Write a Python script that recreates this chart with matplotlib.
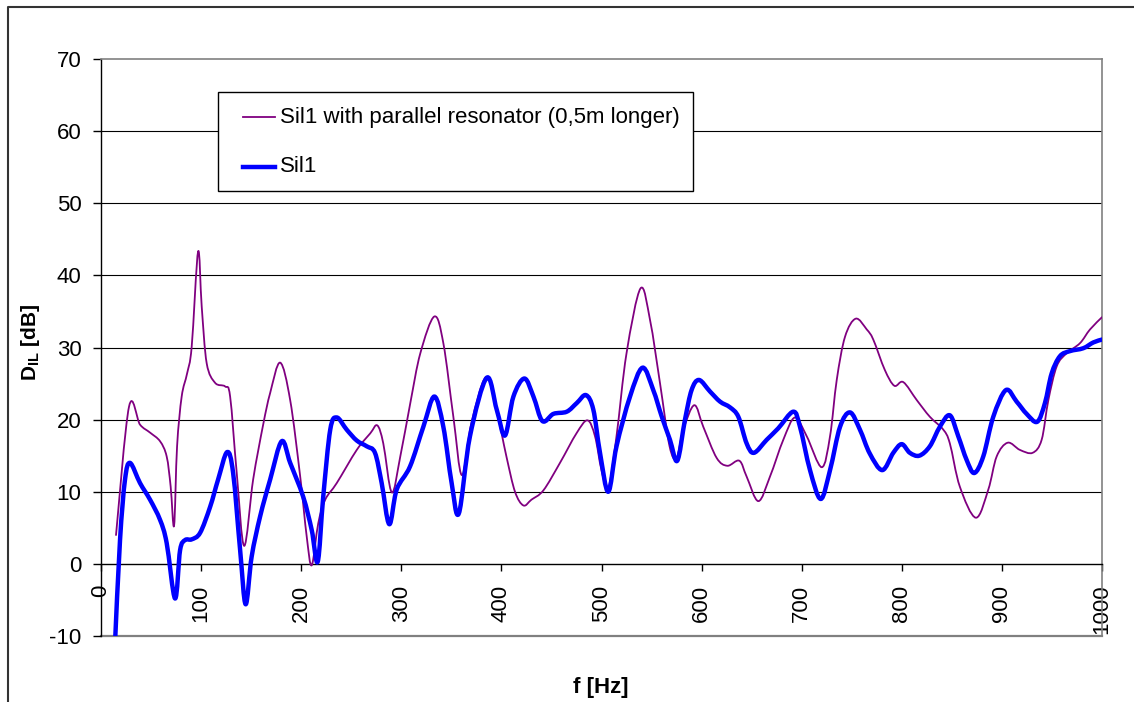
import numpy as np
import matplotlib
matplotlib.use('Agg')
import matplotlib.pyplot as plt
from matplotlib.path import Path
from matplotlib.patches import PathPatch, Rectangle
from matplotlib.lines import Line2D

plt.rcParams['font.family'] = ['Liberation Sans', 'DejaVu Sans']
plt.rcParams['mathtext.fontset'] = 'custom'
plt.rcParams['mathtext.bf'] = 'Liberation Sans:bold'
plt.rcParams['mathtext.rm'] = 'Liberation Sans'
plt.rcParams['axes.unicode_minus'] = False

# insertion loss difference, silencer with parallel resonator (0,5m longer)
f_res = [15, 28, 39, 49, 59, 65.6, 69.6, 73, 76, 80.6, 86, 90.6, 97, 100.6, 105.6,
         114, 124, 129, 135.6, 143, 152, 162, 169, 179, 189, 199, 205.5, 210.5, 217,
         224, 235.5, 255.5, 269, 276, 282, 290.5, 299, 309, 319, 333, 342, 352, 360.5,
         370, 384.6, 395, 405, 413.6, 422, 430, 442, 458.5, 475, 486, 493.5, 500,
         506.8, 515, 525, 539, 548.5, 558.5, 568, 575, 581.7, 592.7, 601.7, 615, 625.7,
         637.7, 645, 656.7, 668.3, 681.6, 693.3, 705, 720, 728.3, 735, 743.3, 754, 765,
         771.5, 783, 792.5, 801.5, 815, 828, 841.5, 848, 858, 874, 886.4, 894.8, 905.8,
         918, 930.7, 939.7, 946.4, 954.8, 964.7, 978, 988, 1000]
d_res = [4.0, 21.8, 19.3, 18.2, 17.0, 14.9, 10.7, 5.3, 16.3, 23.2, 26.4, 30.1, 43.3, 35.7, 27.8,
         25.1, 24.6, 23.2, 12.6, 2.5, 11.7, 19.3, 23.7, 27.9, 22.7, 12.1, 3.8, -0.2, 5.6,
         8.9, 11.2, 15.8, 18.1, 19.2, 16.7, 9.9, 14.9, 22.3, 29.2, 34.3, 30.6, 20.4, 12.3,
         19.5, 25.9, 21.4, 14.9, 10.0, 8.1, 8.9, 10.2, 14.0, 18.1, 19.9, 17.7, 13.0,
         10.5, 17.7, 29.2, 38.2, 33.8, 25.0, 16.3, 14.7, 18.6, 22.0, 19.0, 14.7, 13.6,
         14.3, 12.1, 8.7, 12.1, 17.2, 20.3, 17.7, 13.4, 17.7, 25.5, 31.5, 34.0, 32.5,
         31.1, 26.9, 24.7, 25.2, 22.7, 20.4, 18.6, 16.7, 10.7, 6.4, 10.3, 14.9, 16.8,
         15.8, 15.4, 17.2, 22.7, 27.4, 29.2, 30.6, 32.5, 34.2]

# Sil1 alone
f_sil = [14, 19, 24, 29, 39, 49, 59, 65.6, 74, 79, 84, 90.6, 99, 109, 117, 126, 132, 139,
         144.5, 150.5, 159, 169, 180.5, 189, 202, 210.5, 216.5, 222, 229, 235.5, 245.5,
         255.5, 265.5, 273.7, 280.4, 288, 295.4, 308.7, 322, 333, 342, 350.3, 357.5,
         368.6, 385.3, 395.3, 403.6, 412, 423, 432, 441, 452, 465.3, 475.3, 484.5, 491.8,
         498.5, 506.8, 515, 528.5, 541, 551.7, 560, 568.4, 575.7, 583.4, 590, 597.4,
         608.4, 618.4, 628.4, 636.7, 645, 652.3, 665, 676.6, 691.6, 698.3, 708.3, 719,
         728.3, 738.3, 748.3, 758.2, 768, 780.5, 791.5, 799.9, 808, 817.5, 828, 838, 848,
         856.4, 864.8, 872.4, 881.4, 891.4, 904, 914.7, 924.7, 935.3, 943, 949.7, 958,
         968, 981.3, 991.3, 1000]
d_sil = [-11.0, 3.3, 11.7, 14.0, 11.2, 8.9, 6.1, 2.9, -4.8, 1.9, 3.3, 3.4, 4.3, 7.9, 11.7, 15.5, 12.6, 1.9,
         -5.6, 1.0, 6.6, 11.7, 17.0, 14.0, 9.3, 4.7, 0.3, 9.3, 18.6, 20.3, 18.6,
         17.1, 16.3, 15.4, 11.2, 5.5, 10.3, 13.5, 19.0, 23.2, 19.0, 11.2, 7.0,
         17.7, 25.8, 21.4, 17.8, 23.2, 25.7, 23.2, 19.8, 20.8, 21.1, 22.3, 23.4, 21.4,
         15.4, 10.0, 16.3, 23.2, 27.2, 24.1, 20.5, 17.2, 14.3, 20.0, 24.1, 25.5,
         23.9, 22.5, 21.7, 20.4, 16.7, 15.4, 17.2, 18.8, 21.1, 19.0, 13.0, 9.0,
         13.0, 19.0, 21.0, 18.6, 15.3, 13.0, 15.4, 16.6, 15.4, 15.0, 16.3, 19.0, 20.6,
         17.7, 14.4, 12.6, 14.9, 20.4, 24.1, 22.5, 20.8, 19.7, 22.3, 26.4, 28.8,
         29.5, 29.9, 30.7, 31.1]

labels = ['Sil1 with parallel resonator (0,5m longer)', 'Sil1']
colors = ['#800080', '#0000ff']
widths = [1.3, 3.2]

W, H = 1134, 702


def fig_xy(x, y):
    # pixel position -> figure fraction
    return x / W, 1 - y / H


def smooth_path(x, y):
    # smoothed line as cubic bezier segments (Catmull-Rom tangents)
    p = np.column_stack([x, y]).astype(float)
    ext = np.vstack([p[0], p, p[-1]])
    verts = [p[0]]
    codes = [Path.MOVETO]
    for i in range(len(p) - 1):
        p0, p1, p2, p3 = ext[i], ext[i + 1], ext[i + 2], ext[i + 3]
        c1 = p1 + (p2 - p0) / 6
        c2 = p2 - (p3 - p1) / 6
        verts += [c1, c2, p2]
        codes += [Path.CURVE4] * 3
    return Path(verts, codes)


fig = plt.figure(figsize=(W / 100, H / 100), dpi=100)
ax = fig.add_axes([101 / W, 1 - 636 / H, 1001 / W, 577 / H])

for fx, dy, c, lw in zip([f_res, f_sil], [d_res, d_sil], colors, widths):
    patch = PathPatch(smooth_path(fx, dy), facecolor='none', edgecolor=c, lw=lw,
                      capstyle='round', joinstyle='round', zorder=3)
    ax.add_patch(patch)

ax.set_xlim(0, 1000)
ax.set_ylim(-10, 70)
ax.set_yticks(range(-10, 71, 10))
ax.set_xticks(range(0, 1001, 100))

# gridlines
for g in range(10, 61, 10):
    ax.axhline(g, color='black', lw=0.8, zorder=1)

# plot area frame grey, x axis crosses at 0
for s in ['top', 'right']:
    ax.spines[s].set_color('#808080')
    ax.spines[s].set_linewidth(1.2)
ax.spines['left'].set_color('black')
ax.spines['left'].set_linewidth(1.0)
ax.spines['bottom'].set_position(('data', 0))
ax.spines['bottom'].set_color('black')
ax.spines['bottom'].set_linewidth(1.0)
ax.axhline(-10, color='#808080', lw=1.6, clip_on=False, zorder=1)

ax.tick_params(axis='y', direction='out', length=6, width=1, pad=8, labelsize=16)
ax.tick_params(axis='x', direction='out', length=5, width=1, pad=10, labelsize=16,
               labelrotation=90)

fig.text(*fig_xy(30, 342), r'$\mathbf{D}_\mathbf{IL}$ [dB]', rotation=90, ha='center',
         va='center', fontsize=15, fontweight='bold')
fig.text(*fig_xy(601, 688), 'f [Hz]', ha='center', va='center', fontsize=16,
         fontweight='bold')

# legend box
lx0, ly0, lx1, ly1 = 218, 92, 693, 191
fig.add_artist(Rectangle(fig_xy(lx0, ly1), (lx1 - lx0) / W, (ly1 - ly0) / H,
                         transform=fig.transFigure, facecolor='white',
                         edgecolor='black', lw=1.0, zorder=5))
for i, (lab, c, lw) in enumerate(zip(labels, colors, widths)):
    yy = 117 + 50 * i
    xa, ya = fig_xy(243, yy)
    xb, _ = fig_xy(275, yy)
    fig.add_artist(Line2D([xa, xb], [ya, ya], color=c, lw=lw, zorder=6,
                          transform=fig.transFigure))
    fig.text(*fig_xy(280, yy), lab, ha='left', va='center', fontsize=16, zorder=6)

# outer chart border
fig.add_artist(Line2D([8 / W, 8 / W, 1], [0, 1 - 7 / H, 1 - 7 / H], color='#333333',
                      lw=1.5, transform=fig.transFigure))

plt.savefig('out.png', dpi=100)
